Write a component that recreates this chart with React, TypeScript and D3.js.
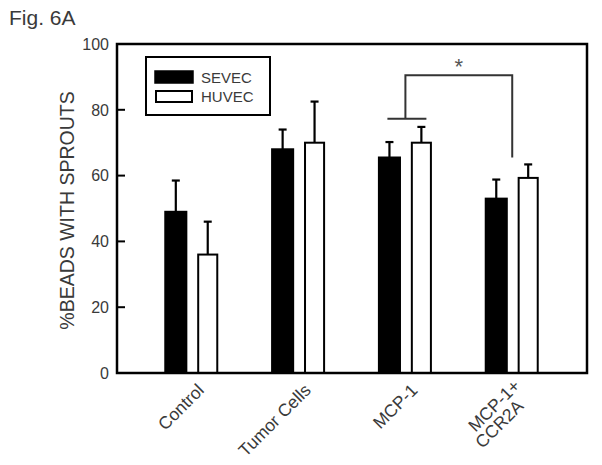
import React from 'react';
import * as d3 from 'd3';

// values (% beads with sprouts)
const categories = ['Control', 'Tumor Cells', 'MCP-1', 'MCP-1+|CCR2A'];
const seriesNames = ['SEVEC', 'HUVEC'];
const sevecValues = [49, 68, 65.5, 53];
const sevecErrors = [9.5, 6, 4.7, 5.8];
const huvecValues = [36, 70, 70, 59.3];
const huvecErrors = [10, 12.5, 4.8, 4.1];
const yTicks = [0, 20, 40, 60, 80, 100];

// significance bracket between MCP-1 and MCP-1+CCR2A
const bracketTop = 90.5;
const bracketLeftBottom = 77.3;
const bracketRightBottom = 65.5;

const width = 602;
const height = 465;
const margin = { top: 44, right: 15, bottom: 92, left: 117 };

const font = '"Liberation Sans", Arial, sans-serif';
const textColor = '#3a3a3a';

export default function App() {
  const innerRight = width - margin.right;
  const innerBottom = height - margin.bottom;

  const x = d3.scalePoint<string>()
    .domain(categories)
    .range([margin.left, innerRight])
    .padding(0.7);

  const sub = d3.scaleBand<string>()
    .domain(seriesNames)
    .range([-26.5, 26.5])
    .paddingInner(0.34);

  const y = d3.scaleLinear()
    .domain([0, 100])
    .range([innerBottom, margin.top]);

  const rows = categories.map((c, i) => ({
    cat: c,
    bars: [
      { name: 'SEVEC', value: sevecValues[i], err: sevecErrors[i], fill: '#000' },
      { name: 'HUVEC', value: huvecValues[i], err: huvecErrors[i], fill: '#fff' },
    ],
  }));

  const bw = sub.bandwidth();
  const capHalf = 4;

  const leftX = x(categories[2])!;
  const rightX = x(categories[3])!;

  return (
    <svg width={width} height={height} style={{ position: 'absolute', left: 0, top: 0, background: '#fff' }}>
      <text x={9} y={25} fontFamily={font} fontSize={21} fill={textColor}>Fig. 6A</text>

      {/* bars + error bars */}
      {rows.map((r) => (
        <g key={r.cat} transform={`translate(${x(r.cat)},0)`}>
          {r.bars.map((b) => {
            const bx = sub(b.name)!;
            const cx = bx + bw / 2;
            const topY = y(b.value + b.err);
            return (
              <g key={b.name}>
                <line x1={cx} x2={cx} y1={y(b.value)} y2={topY} stroke="#000" strokeWidth={2.2} />
                <line x1={cx - capHalf} x2={cx + capHalf} y1={topY} y2={topY} stroke="#000" strokeWidth={2.2} />
                <rect
                  x={bx + (b.fill === '#fff' ? 1 : 0)}
                  y={y(b.value)}
                  width={bw - (b.fill === '#fff' ? 2 : 0)}
                  height={innerBottom - y(b.value)}
                  fill={b.fill}
                  stroke="#000"
                  strokeWidth={2}
                />
              </g>
            );
          })}
        </g>
      ))}

      {/* frame */}
      <rect x={margin.left} y={margin.top} width={innerRight - margin.left} height={innerBottom - margin.top}
        fill="none" stroke="#000" strokeWidth={2.5} />

      {/* y ticks (inward) */}
      {yTicks.map((t) => (
        <g key={t}>
          {t > 0 && t < 100 && (
            <line x1={margin.left} x2={margin.left + 8} y1={y(t)} y2={y(t)} stroke="#000" strokeWidth={2} />
          )}
          <text x={margin.left - 8} y={y(t)} dy="0.36em" textAnchor="end" fontFamily={font} fontSize={16} fill={textColor}>
            {t}
          </text>
        </g>
      ))}

      <text
        transform={`translate(74,${(margin.top + innerBottom) / 2 + 2}) rotate(-90)`}
        textAnchor="middle"
        fontFamily={font}
        fontSize={19.5}
        fill={textColor}
      >
        %BEADS WITH SPROUTS
      </text>

      {/* x labels rotated */}
      {categories.map((c) => {
        const lines = c.split('|');
        return (
          <text
            key={c}
            transform={`translate(${x(c)! + 9},${innerBottom + 14}) rotate(-45)`}
            textAnchor="end"
            fontFamily={font}
            fontSize={17.5}
            fill={textColor}
          >
            {lines.map((l, i) => (
              <tspan key={l} x={i * -12} dy={i === 0 ? (lines.length > 1 ? '0em' : '0.35em') : '0.95em'}>{l}</tspan>
            ))}
          </text>
        );
      })}

      {/* significance bracket */}
      <g stroke="#333" strokeWidth={2} fill="none">
        <polyline points={`${leftX},${y(bracketLeftBottom)} ${leftX},${y(bracketTop)} ${rightX},${y(bracketTop)} ${rightX},${y(bracketRightBottom)}`} />
        <line x1={leftX - 18} x2={leftX + 21} y1={y(bracketLeftBottom)} y2={y(bracketLeftBottom)} />
      </g>
      <text x={(leftX + rightX) / 2} y={y(bracketTop) - 1} textAnchor="middle" fontFamily={font} fontSize={22} fill="#555">*</text>

      {/* legend */}
      <rect x={146} y={57} width={124} height={58} fill="#fff" stroke="#000" strokeWidth={2} />
      <rect x={155} y={71} width={38} height={12} fill="#000" stroke="#000" strokeWidth={1.5} />
      <rect x={156} y={91} width={36} height={11} fill="#fff" stroke="#000" strokeWidth={2} />
      <text x={201} y={82.5} fontFamily={font} fontSize={15} fill={textColor}>SEVEC</text>
      <text x={201} y={102} fontFamily={font} fontSize={15} fill={textColor}>HUVEC</text>
    </svg>
  );
}
